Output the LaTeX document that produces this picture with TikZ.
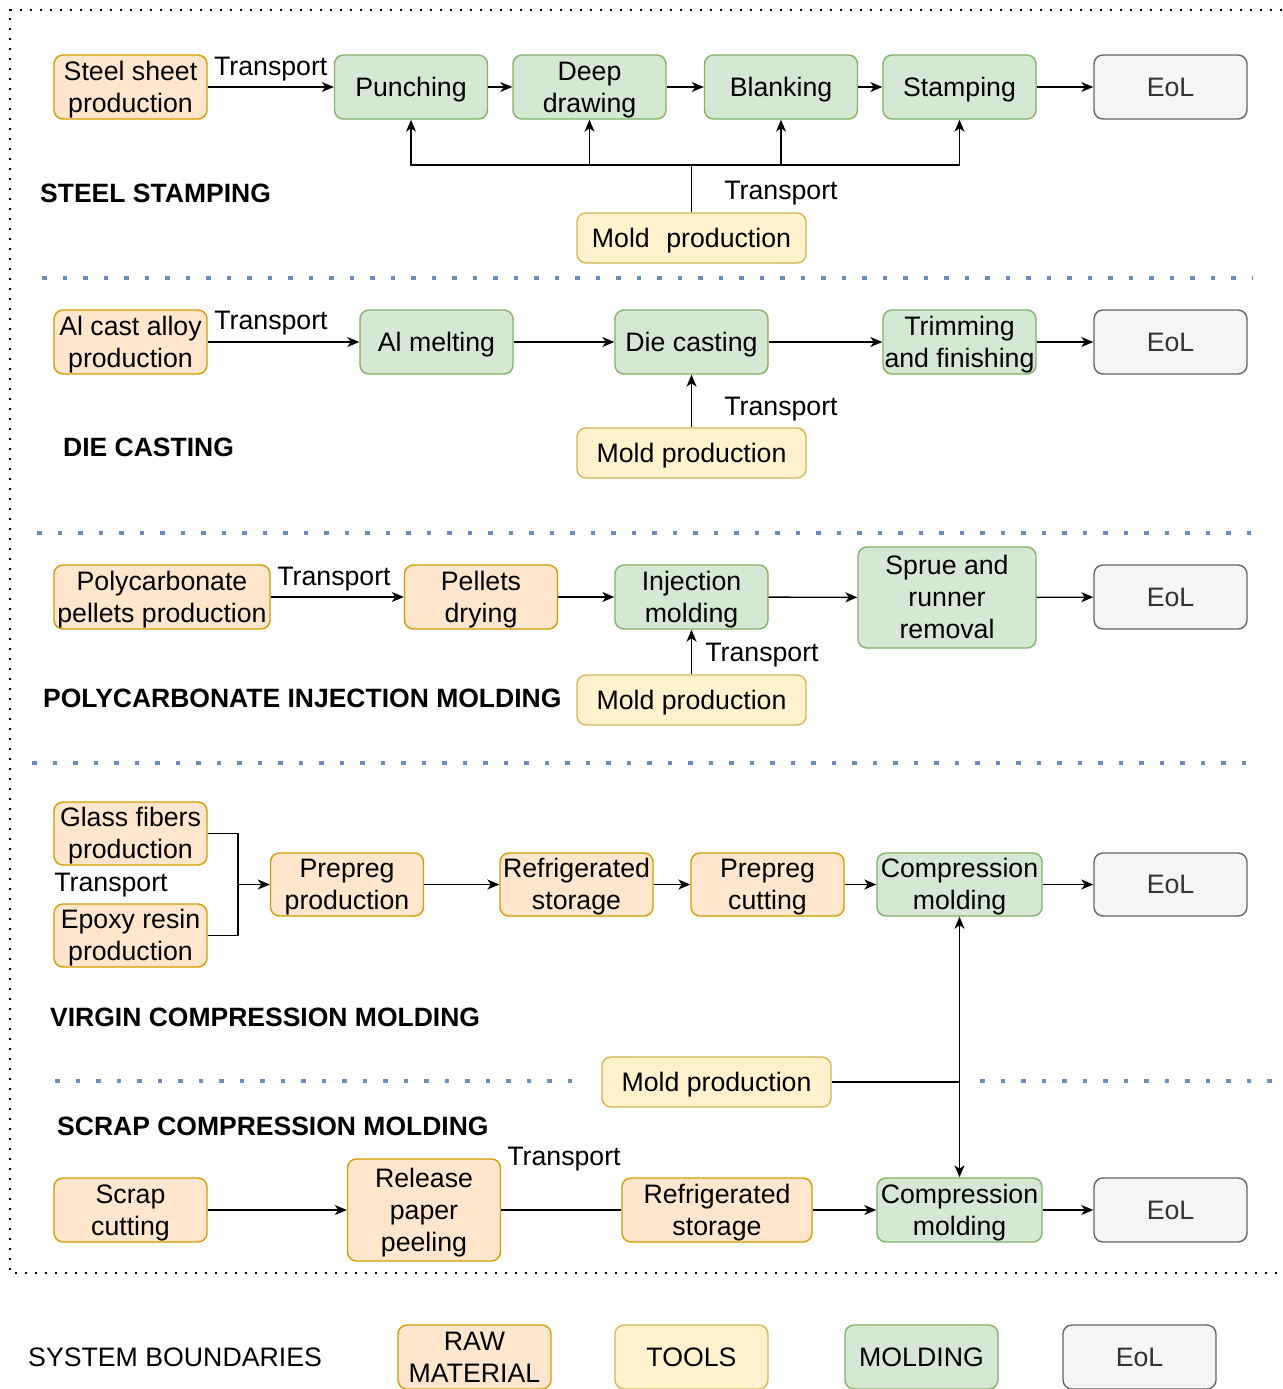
\documentclass[tikz,border=0pt]{standalone}
\usepackage{fontspec}
\setmainfont{Liberation Sans}
\usetikzlibrary{arrows.meta}
\definecolor{rawF}{HTML}{FFE6CC}\definecolor{rawD}{HTML}{D79B00}
\definecolor{toolF}{HTML}{FFF2CC}\definecolor{toolD}{HTML}{D6B656}
\definecolor{moldF}{HTML}{D5E8D4}\definecolor{moldD}{HTML}{82B366}
\definecolor{eolF}{HTML}{F5F5F5}\definecolor{eolD}{HTML}{666666}
\definecolor{eolT}{HTML}{333333}
\definecolor{sepC}{HTML}{6C8EBF}
\newcommand\bs{\rule[-0.212em]{0pt}{1.117em}}
\begin{document}
\begin{tikzpicture}[x=1pt,y=-1pt,
  box/.style={rounded corners=9pt, line width=1.4pt, inner sep=0pt, align=center,
    minimum width=153pt, minimum height=64pt, font=\fontsize{26.7}{32}\selectfont},
  raw/.style={box, fill=rawF, draw=rawD},
  tool/.style={box, fill=toolF, draw=toolD, minimum width=229pt, minimum height=50pt},
  mold/.style={box, fill=moldF, draw=moldD},
  eol/.style={box, fill=eolF, draw=eolD, text=eolT},
  lbl/.style={inner sep=0pt, font=\fontsize{26.7}{32}\selectfont},
  head/.style={inner sep=0pt, anchor=west, font=\fontsize{26.5}{30}\selectfont\bfseries},
  arr/.style={line width=1.4pt, -{Stealth[length=12pt,width=10pt,inset=3.5pt]}},
  ln/.style={line width=1.4pt},
  sep/.style={draw=sepC, line width=4.5pt, dash pattern=on 4.5pt off 16pt},
  border/.style={line width=2.2pt, dash pattern=on 2.2pt off 7.8pt}
]
\useasboundingbox (0,0) rectangle (1282,1389);
\fill[white] (0,0) rectangle (1282,1389);

% border and separators
\draw[border] (1282,10) -- (10,10) -- (10,1273) -- (1282,1273);
\draw[sep] (42,278) -- (1252,278);
\draw[sep] (37,533) -- (1267,533);
\draw[sep] (32,763) -- (1262,763);
\draw[sep] (55,1081) -- (572,1081);
\draw[sep] (980,1081) -- (1272,1081);

% ---------- Steel stamping ----------
\node[raw] (ss) at (130.5,87) {\bs Steel sheet\\production\bs};
\node[mold] (punch) at (411,87) {\bs Punching\bs};
\node[mold] (deep) at (589.5,87) {\bs Deep\\drawing\bs};
\node[mold] (blank) at (781,87) {\bs Blanking\bs};
\node[mold] (stamp) at (959.5,87) {\bs Stamping\bs};
\node[eol] (eol1) at (1170.5,87) {\bs EoL\bs};
\node[tool] (mold1) at (691.5,238) {\bs Mold\hspace{0.62em}production\bs};
\node[head] (h1) at (40,193) {STEEL STAMPING};
\coordinate (j1) at (691.5,165);
\draw[arr] (ss) -- (punch) node[lbl, midway, anchor=base, yshift=12pt] {Transport};
\draw[arr] (punch) -- (deep);
\draw[arr] (deep) -- (blank);
\draw[arr] (blank) -- (stamp);
\draw[arr] (stamp) -- (eol1);
\draw[ln] (mold1) -- (j1);
\draw[arr] (j1) -| (punch);
\draw[arr] (j1) -| (deep);
\draw[arr] (j1) -| (blank);
\draw[arr] (j1) -| (stamp);
\node[lbl] (t1b) at (781,193) {Transport};

% ---------- Die casting ----------
\node[raw] (al) at (130.5,342) {\bs Al cast alloy\\production\bs};
\node[mold] (melt) at (436.5,342) {\bs Al melting\bs};
\node[mold] (die) at (691.5,342) {\bs Die casting\bs};
\node[mold] (trim) at (959.5,342) {\bs Trimming\\and finishing\bs};
\node[eol] (eol2) at (1170.5,342) {\bs EoL\bs};
\node[tool] (mold2) at (691.5,453) {\bs Mold production\bs};
\node[head] (h2) at (63,447) {DIE CASTING};
\draw[arr] (al) -- (melt);
\node[lbl] (t2a) at (271,323) {Transport};
\draw[arr] (melt) -- (die);
\draw[arr] (die) -- (trim);
\draw[arr] (trim) -- (eol2);
\draw[arr] (mold2) -- (die);
\node[lbl] (t2b) at (781,409) {Transport};

% ---------- Polycarbonate injection molding ----------
\node[raw, minimum width=216pt] (pc) at (162,597) {\bs Polycarbonate\\pellets production\bs};
\node[raw] (dry) at (481,597) {\bs Pellets\\drying\bs};
\node[mold] (inj) at (691.5,597) {\bs Injection\\molding\bs};
\node[mold, minimum width=178pt, minimum height=101pt] (sprue) at (947,597.5) {\bs Sprue and\\runner\\removal\bs};
\node[eol] (eol3) at (1170.5,597) {\bs EoL\bs};
\node[tool] (mold3) at (691.5,700) {\bs Mold production\bs};
\node[head] (h3) at (43,698) {POLYCARBONATE INJECTION MOLDING};
\draw[arr] (pc) -- (dry);
\node[lbl] (t3a) at (334,579) {Transport};
\draw[arr] (dry) -- (inj);
\draw[arr] (inj) -- (sprue);
\draw[arr] (sprue) -- (eol3);
\draw[arr] (mold3) -- (inj);
\node[lbl] (t3b) at (762,655) {Transport};

% ---------- Virgin compression molding ----------
\node[raw, minimum height=63pt] (glass) at (130.5,833.5) {\bs Glass fibers\\production\bs};
\node[raw, minimum height=63pt] (epoxy) at (130.5,935.5) {\bs Epoxy resin\\production\bs};
\node[lbl] (t4) at (111,885) {Transport};
\node[raw, minimum height=63pt] (prep) at (347,884.5) {\bs Prepreg\\production\bs};
\node[raw, minimum height=63pt] (refr1) at (576.5,884.5) {\bs Refrigerated\\storage\bs};
\node[raw, minimum height=63pt] (cut) at (767.5,884.5) {\bs Prepreg\\cutting\bs};
\node[mold, minimum width=165pt, minimum height=63pt] (comp1) at (959.5,884.5) {\bs Compression\\molding\bs};
\node[eol, minimum height=63pt] (eol4) at (1170.5,884.5) {\bs EoL\bs};
\node[head] (h4) at (50,1017) {VIRGIN COMPRESSION MOLDING};
\coordinate (j4) at (238,884.5);
\draw[ln] (glass) -| (j4);
\draw[ln] (epoxy) -| (j4);
\draw[arr] (j4) -- (prep);
\draw[arr] (prep) -- (refr1);
\draw[arr] (refr1) -- (cut);
\draw[arr] (cut) -- (comp1);
\draw[arr] (comp1) -- (eol4);

% shared mold
\node[tool] (mold4) at (716.5,1082) {\bs Mold production\bs};
\coordinate (j5) at (959.5,1082);
\draw[ln] (mold4) -- (j5);
\draw[arr] (j5) -- (comp1);

% ---------- Scrap compression molding ----------
\node[head] (h5) at (57,1126) {SCRAP COMPRESSION MOLDING};
\node[raw] (scrap) at (130.5,1210) {\bs Scrap\\cutting\bs};
\node[raw, minimum height=102pt] (rel) at (424,1210) {\bs Release\\paper\\peeling\bs};
\node[raw, minimum width=190pt] (refr2) at (717,1210) {\bs Refrigerated\\storage\bs};
\node[mold, minimum width=165pt] (comp2) at (959.5,1210) {\bs Compression\\molding\bs};
\node[eol] (eol5) at (1170.5,1210) {\bs EoL\bs};
\draw[arr] (scrap) -- (rel);
\draw[ln] (rel) -- (refr2);
\node[lbl] (t5) at (564,1159) {Transport};
\draw[arr] (refr2) -- (comp2);
\draw[arr] (comp2) -- (eol5);
\draw[arr] (j5) -- (comp2);

% ---------- Legend ----------
\node[lbl, anchor=west] (sb) at (28,1357) {SYSTEM BOUNDARIES};
\node[raw] (lraw) at (474.5,1357) {\bs RAW\\MATERIAL\bs};
\node[tool, minimum width=153pt, minimum height=64pt] (ltool) at (691.5,1357) {\bs TOOLS\bs};
\node[mold] (lmold) at (921.5,1357) {\bs MOLDING\bs};
\node[eol] (leol) at (1139.5,1357) {\bs EoL\bs};
\end{tikzpicture}
\end{document}
